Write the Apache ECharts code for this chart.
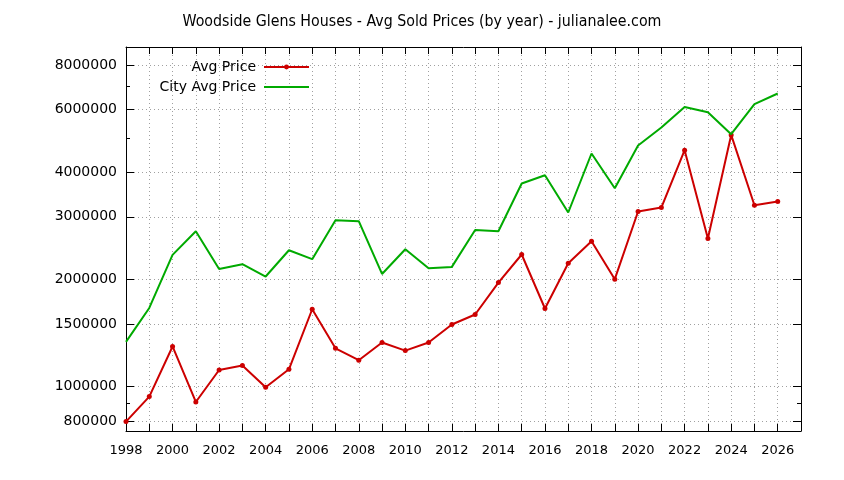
<!DOCTYPE html>
<html>
<head>
<meta charset="utf-8">
<script src="https://cdn.jsdelivr.net/npm/echarts@6/dist/echarts.min.js"></script>
<style>html,body{margin:0;padding:0;background:#fff}#c{width:844px;height:480px}</style>
</head>
<body>
<div id="c"></div>
<script>
var titleText = 'Woodside Glens Houses - Avg Sold Prices (by year) - julianalee.com';
var years = [1998,1999,2000,2001,2002,2003,2004,2005,2006,2007,2008,2009,2010,2011,2012,2013,2014,2015,2016,2017,2018,2019,2020,2021,2022,2023,2024,2025,2026];
var avgPrice = [797000,937000,1296000,905000,1113000,1146000,995000,1118000,1649000,1281000,1186000,1330000,1262000,1330000,1494000,1594000,1960000,2350000,1657000,2221000,2561000,2003000,3104000,3185000,4616000,2606000,5095000,3233000,3311000];
var cityAvgPrice = [1335000,1663000,2344000,2732000,2141000,2207000,2038000,2416000,2280000,2934000,2915000,2072000,2432000,2150000,2169000,2755000,2732000,3721000,3925000,3084000,4518000,3609000,4758000,5346000,6108000,5902000,5118000,6216000,6662000];
var yMajorTicks = [800000,1000000,1500000,2000000,3000000,4000000,6000000,8000000];
var yMinorTicks = [900000,5000000,7000000];
var xLabelYears = [1998,2000,2002,2004,2006,2008,2010,2012,2014,2016,2018,2020,2022,2024,2026];

var FONT = 'DejaVu Sans';
var yMin = 750000, yMax = 9000000;
var gridLine = {show:true, lineStyle:{color:'#a0a0a0', width:1, type:[1,3]}};

function yAx(pos, ticks, len, showLine, showLabel, split) {
  return {
    type:'log', logBase:10, min:yMin, max:yMax, position:pos,
    axisLine:{show:showLine, lineStyle:{color:'#000', width:1}},
    axisTick:{show:true, inside:true, length:len, customValues:ticks, lineStyle:{color:'#000'}},
    axisLabel:{show:showLabel, customValues:ticks, margin:9, color:'#000', fontFamily:FONT, fontSize:14,
      formatter:function(v){return String(Math.round(v));}},
    splitLine: split ? gridLine : {show:false},
    minorTick:{show:false}, minorSplitLine:{show:false}
  };
}
function pairs(vals){ return years.map(function(y,i){return [y, vals[i]];}); }

var chart = echarts.init(document.getElementById('c'), null, {renderer:'canvas'});
chart.setOption({
  animation:false,
  backgroundColor:'#fff',
  title:{text:titleText, left:'center', top:9,
    textStyle:{fontFamily:'DejaVu Sans Condensed, Liberation Sans Narrow, sans-serif', fontWeight:'normal', fontSize:15.8, color:'#000'}},
  legend:{orient:'vertical', align:'right', right:534, top:60, padding:0, itemWidth:45, itemHeight:6, itemGap:6,
    textStyle:{fontFamily:FONT, fontSize:14, color:'#000', padding:[0,3,0,0]},
    data:[
      {name:'Avg Price'},
      {name:'City Avg Price', itemStyle:{opacity:0}}
    ]},
  grid:{left:126, right:43, top:47, bottom:49, containLabel:false, outerBoundsMode:'none'},
  xAxis:[
    {type:'value', min:1998, max:2027, interval:1, position:'bottom',
     axisLine:{show:true, onZero:false, lineStyle:{color:'#000', width:1}},
     axisTick:{show:true, inside:true, length:7, lineStyle:{color:'#000'}},
     axisLabel:{color:'#000', fontFamily:FONT, fontSize:13, margin:13, showMinLabel:true, showMaxLabel:true,
       formatter:function(v){ return xLabelYears.indexOf(v) >= 0 ? String(v) : ''; }},
     splitLine:gridLine},
    {type:'value', min:1998, max:2027, interval:1, position:'top',
     axisLine:{show:true, onZero:false, lineStyle:{color:'#000', width:1}},
     axisTick:{show:true, inside:true, length:7, lineStyle:{color:'#000'}},
     axisLabel:{show:false}, splitLine:{show:false}}
  ],
  yAxis:[
    yAx('left', yMajorTicks, 8, true, true, true),
    yAx('left', yMinorTicks, 4, false, false, false),
    yAx('right', yMajorTicks, 8, true, false, false),
    yAx('right', yMinorTicks, 4, false, false, false)
  ],
  series:[
    {name:'Avg Price', type:'line', xAxisIndex:0, yAxisIndex:0, data:pairs(avgPrice),
     symbol:'circle', symbolSize:5, showSymbol:true,
     lineStyle:{color:'#cc0000', width:2}, itemStyle:{color:'#cc0000'}, color:'#cc0000', z:2},
    {name:'City Avg Price', type:'line', xAxisIndex:0, yAxisIndex:0, data:pairs(cityAvgPrice),
     symbol:'none', showSymbol:false,
     lineStyle:{color:'#00aa00', width:2}, itemStyle:{color:'#00aa00'}, color:'#00aa00', z:3}
  ]
});
</script>
</body>
</html>
